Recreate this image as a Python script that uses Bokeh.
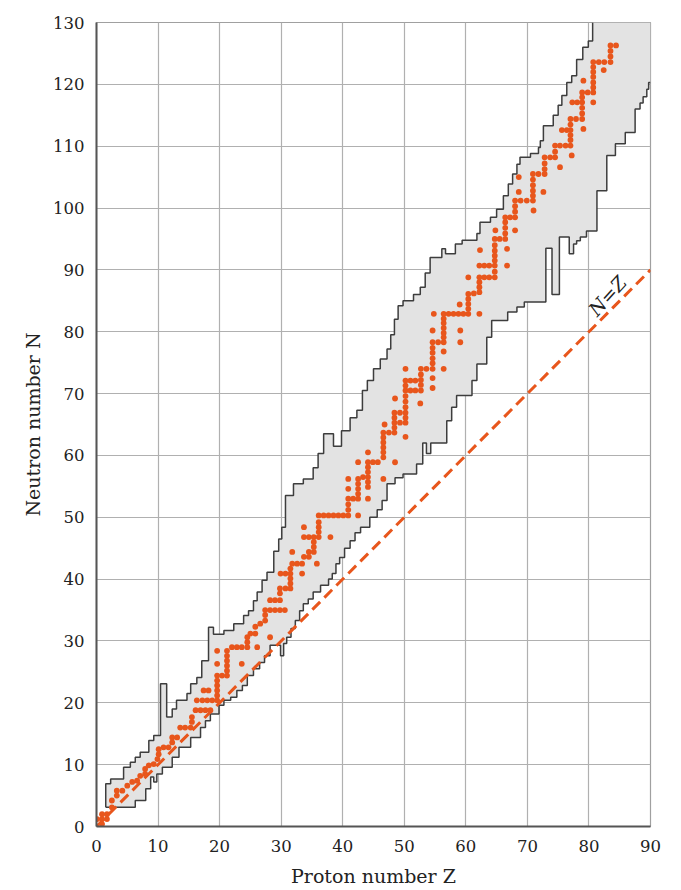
from bokeh.plotting import figure
from bokeh.models import Label, Range1d, FixedTicker
from bokeh.embed import file_html
from bokeh.resources import INLINE

# ---------------- data (proton number Z, neutron number N) ----------------
# upper edge of the band of known nuclei (staircase vertices)
upper_edge = [
    (1.5, 3.1), (1.5, 6.9), (2.3, 6.9), (2.3, 7.7), (4.4, 7.7), (4.4, 9.6), (5.5, 9.6), (5.5, 10.4),
    (6.3, 10.4), (6.3, 11.2), (7.1, 11.2), (7.1, 12.0), (8.5, 12.0), (8.5, 13.9), (9.3, 13.9),
    (9.3, 14.7), (10.4, 14.7), (10.4, 23.1), (11.4, 23.1), (11.4, 17.7), (12.3, 17.7), (12.3, 19.0),
    (13.0, 19.0), (13.0, 20.4), (14.7, 20.4), (14.7, 21.5), (15.3, 21.5), (15.3, 23.1), (16.3, 23.1),
    (16.3, 24.1), (17.1, 24.1), (17.1, 26.8), (18.2, 26.8), (18.2, 32.2), (19.0, 32.2), (19.0, 31.1),
    (20.7, 31.1), (20.7, 31.7), (22.3, 31.7), (22.3, 32.8), (23.9, 32.8), (23.9, 34.1), (24.7, 34.1),
    (24.7, 34.9), (25.5, 34.9), (25.5, 36.5), (26.1, 36.5), (26.1, 37.9), (26.9, 37.9), (26.9, 39.8),
    (27.7, 39.8), (27.7, 41.1), (28.8, 41.1), (28.8, 44.5), (29.6, 44.5), (29.6, 46.5), (30.1, 46.5),
    (30.1, 48.4), (30.7, 48.4), (30.7, 53.5), (32.0, 53.5), (32.0, 55.4), (33.6, 55.4), (33.6, 56.2),
    (35.2, 56.2), (35.2, 58.0), (36.0, 58.0), (36.0, 60.3), (36.9, 60.3), (36.9, 63.5), (38.5, 63.5),
    (38.5, 61.5), (39.8, 61.5), (39.8, 64.0), (41.2, 64.0), (41.2, 66.1), (42.3, 66.1), (42.3, 67.3),
    (43.2, 67.3), (43.2, 70.5), (44.0, 70.5), (44.0, 72.1), (45.0, 72.1), (45.0, 74.0), (46.1, 74.0),
    (46.1, 75.6), (47.2, 75.6), (47.2, 77.2), (47.8, 77.2), (47.8, 79.5), (48.4, 79.5), (48.4, 82.0),
    (49.0, 82.0), (49.0, 84.2), (49.8, 84.2), (49.8, 85.0), (51.5, 85.0), (51.5, 86.0), (52.6, 86.0),
    (52.6, 87.2), (53.4, 87.2), (53.4, 89.5), (54.2, 89.5), (54.2, 92.0), (56.1, 92.0), (56.1, 93.4),
    (56.7, 93.4), (56.7, 92.6), (58.3, 92.6), (58.3, 94.2), (59.4, 94.2), (59.4, 94.8), (61.8, 94.8),
    (61.8, 95.9), (62.3, 95.9), (62.3, 97.7), (64.0, 97.7), (64.0, 98.5), (65.0, 98.5), (65.0, 99.8),
    (66.1, 99.8), (66.1, 102.0), (66.9, 102.0), (66.9, 103.9), (67.6, 103.9), (67.6, 105.5),
    (68.3, 105.5), (68.3, 107.1), (68.8, 107.1), (68.8, 108.2), (70.5, 108.2), (70.5, 108.8),
    (71.8, 108.8), (71.8, 109.8), (72.1, 109.8), (72.1, 110.9), (72.6, 110.9), (72.6, 113.3),
    (74.2, 113.3), (74.2, 115.0), (75.0, 115.0), (75.0, 116.6), (75.6, 116.6), (75.6, 118.2),
    (76.4, 118.2), (76.4, 120.3), (77.2, 120.3), (77.2, 121.4), (78.0, 121.4), (78.0, 124.0),
    (79.0, 124.0), (79.0, 126.0), (79.9, 126.0), (79.9, 127.0), (80.6, 127.0), (80.6, 130.0)]

# lower edge of the band of known nuclei (staircase vertices)
lower_edge = [
    (1.5, 3.1), (6.3, 3.1), (6.3, 4.2), (8.0, 4.2), (8.0, 6.1), (8.8, 6.1), (8.8, 8.0), (9.3, 8.0),
    (9.3, 7.2), (9.8, 7.2), (9.8, 8.5), (10.7, 8.5), (10.7, 9.6), (12.3, 9.6), (12.3, 11.2),
    (13.4, 11.2), (13.4, 12.8), (15.3, 12.8), (15.3, 14.4), (16.9, 14.4), (16.9, 16.0), (17.7, 16.0),
    (17.7, 17.1), (18.5, 17.1), (18.5, 18.2), (19.9, 18.2), (19.9, 19.6), (20.7, 19.6), (20.7, 20.4),
    (21.8, 20.4), (21.8, 20.9), (22.8, 20.9), (22.8, 22.0), (23.7, 22.0), (23.7, 22.8), (24.5, 22.8),
    (24.5, 24.4), (25.5, 24.4), (25.5, 25.5), (26.5, 25.5), (26.5, 26.5), (27.3, 26.5), (27.3, 27.6),
    (28.2, 27.6), (28.2, 29.3), (29.9, 29.3), (29.9, 27.6), (30.4, 27.6), (30.4, 29.6), (30.9, 29.6),
    (30.9, 30.6), (31.6, 30.6), (31.6, 32.0), (32.3, 32.0), (32.3, 33.3), (33.0, 33.3), (33.0, 34.9),
    (33.6, 34.9), (33.6, 36.0), (34.4, 36.0), (34.4, 36.8), (35.2, 36.8), (35.2, 37.9), (36.4, 37.9),
    (36.4, 39.0), (37.7, 39.0), (37.7, 40.0), (38.3, 40.0), (38.3, 40.9), (38.9, 40.9), (38.9, 42.5),
    (39.5, 42.5), (39.5, 43.5), (40.3, 43.5), (40.3, 45.0), (41.2, 45.0), (41.2, 46.2), (42.0, 46.2),
    (42.0, 47.5), (42.9, 47.5), (42.9, 48.4), (44.4, 48.4), (44.4, 50.0), (45.6, 50.0), (45.6, 51.2),
    (46.4, 51.2), (46.4, 52.7), (47.2, 52.7), (47.2, 55.4), (48.5, 55.4), (48.5, 56.4), (49.8, 56.4),
    (49.8, 57.0), (52.0, 57.0), (52.0, 58.6), (53.0, 58.6), (53.0, 62.0), (53.6, 62.0), (53.6, 60.3),
    (54.3, 60.3), (54.3, 62.0), (56.9, 62.0), (56.9, 65.6), (57.7, 65.6), (57.7, 67.8), (58.5, 67.8),
    (58.5, 69.7), (61.0, 69.7), (61.0, 72.1), (61.8, 72.1), (61.8, 74.8), (63.4, 74.8), (63.4, 79.1),
    (64.2, 79.1), (64.2, 81.8), (66.8, 81.8), (66.8, 83.2), (68.3, 83.2), (68.3, 84.0), (69.5, 84.0),
    (69.5, 84.8), (73.0, 84.8), (73.0, 93.5), (74.0, 93.5), (74.0, 86.0), (75.2, 86.0), (75.2, 95.3),
    (76.8, 95.3), (76.8, 92.6), (77.5, 92.6), (77.5, 94.2), (78.0, 94.2), (78.0, 94.7), (78.6, 94.7),
    (78.6, 95.3), (79.6, 95.3), (79.6, 96.3), (81.3, 96.3), (81.3, 102.8), (82.9, 102.8),
    (82.9, 108.5), (84.3, 108.5), (84.3, 110.4), (85.9, 110.4), (85.9, 112.2), (87.5, 112.2),
    (87.5, 116.0), (88.3, 116.0), (88.3, 117.0), (88.8, 117.0), (88.8, 118.0), (89.4, 118.0),
    (89.4, 119.2), (89.7, 119.2), (89.7, 120.3), (90.0, 120.3)]

# stable nuclei
stable_light = [
    (0.1, 1.2), (0.9, 2.0), (0.9, 1.2), (0.9, 0.4), (1.7, 2.0), (1.7, 1.2), (2.5, 3.1),
    (2.5, 4.2), (3.3, 5.0), (3.3, 5.8), (4.2, 5.8), (5.0, 6.6), (5.8, 7.2), (6.6, 7.4), (7.1, 8.2),
    (7.9, 8.5), (7.9, 9.3), (8.5, 9.9), (9.3, 10.1), (9.9, 10.9), (10.1, 11.7), (10.1, 12.5),
    (10.9, 12.8), (11.7, 12.8), (12.3, 13.6), (12.3, 14.4), (13.1, 14.4), (13.6, 16.0), (14.4, 16.0),
    (15.3, 16.0), (15.5, 16.9), (15.5, 17.7), (16.1, 18.8), (16.9, 18.8), (17.7, 18.8), (18.5, 18.8),
    (16.3, 20.4), (17.2, 20.4), (18.0, 20.4), (18.8, 20.4), (19.6, 20.4), (17.4, 22.0), (18.2, 22.0),
    (19.6, 21.2), (19.6, 22.0), (19.6, 22.8), (19.6, 23.6), (19.6, 24.4), (20.4, 24.4), (21.2, 24.4),
    (21.2, 25.2), (21.2, 26.0), (21.2, 26.8), (21.2, 27.6), (21.2, 28.4), (22.0, 29.0), (22.8, 29.0),
    (23.6, 29.0), (24.5, 29.0), (24.5, 29.8), (24.5, 30.6),
    (19.6, 28.4), (19.6, 26.3), (23.6, 26.3), (26.1, 29.0), (28.2, 30.6)]
stable_medium = [
    (25.0, 31.2), (25.8, 31.2), (25.8, 32.3), (26.6, 32.8), (27.4, 33.3), (27.4, 34.2), (27.4, 35.0),
    (28.2, 35.0), (29.0, 35.0), (29.8, 35.0), (30.6, 35.0), (28.2, 36.6), (29.0, 36.6), (29.8, 36.6),
    (29.8, 37.7), (29.8, 38.5), (30.7, 38.5), (31.5, 38.5), (31.5, 39.3), (31.5, 40.1), (29.9, 40.9),
    (30.7, 40.9), (31.5, 40.9), (31.5, 41.7), (31.8, 42.5), (32.6, 42.5), (33.4, 42.5), (33.7, 43.6),
    (34.5, 43.6), (34.5, 44.4), (35.3, 44.4), (35.3, 45.2), (35.3, 46.0), (33.7, 46.8), (34.5, 46.8),
    (35.3, 46.8), (36.1, 46.8), (36.1, 47.6), (36.1, 48.4), (36.1, 49.2), (33.4, 40.9), (31.8, 44.4),
    (35.8, 42.5), (33.7, 48.4), (38.0, 46.8),
    (36.1, 50.3), (36.9, 50.3), (37.7, 50.3), (38.5, 50.3), (39.3, 50.3), (40.1, 50.3), (40.9, 50.3),
    (40.9, 51.2), (40.9, 52.1), (40.9, 53.0), (41.7, 53.0), (42.5, 53.0), (42.5, 53.8), (42.5, 54.6),
    (42.5, 55.4), (42.5, 56.2), (43.3, 56.5), (44.1, 56.5), (44.1, 55.7), (44.1, 54.9), (44.1, 57.3),
    (44.1, 58.1), (44.1, 58.9), (44.9, 58.9), (45.7, 58.9), (42.5, 50.3), (40.9, 54.6), (40.9, 56.2),
    (44.1, 53.0), (42.5, 58.9), (44.1, 60.5), (46.6, 56.2), (48.5, 58.9)]
stable_heavy = [
    (46.6, 59.7), (46.6, 60.5), (46.6, 61.3), (46.6, 62.1), (46.6, 62.9), (46.6, 63.7), (47.5, 63.7),
    (48.4, 63.7), (48.4, 64.5), (48.4, 65.3), (49.3, 65.3), (50.2, 65.3), (48.4, 66.1), (50.2, 66.1),
    (48.4, 66.9), (49.3, 66.9), (50.2, 66.9), (50.2, 67.8), (50.2, 68.7), (50.2, 69.6), (50.2, 70.5),
    (50.2, 71.3), (50.2, 72.1), (51.0, 70.5), (51.8, 70.5), (51.0, 72.1), (51.8, 72.1), (52.7, 70.5),
    (52.7, 71.4), (52.7, 72.2), (52.7, 73.1), (52.7, 74.0), (53.6, 74.0), (54.6, 74.0), (54.6, 74.9),
    (54.6, 75.7), (54.6, 76.6), (54.6, 77.4), (54.6, 78.3), (55.5, 78.3), (56.4, 78.3), (56.4, 79.1),
    (56.4, 79.8), (56.4, 80.6), (56.4, 81.4), (56.4, 82.1), (56.4, 82.9), (57.2, 82.9), (58.0, 82.9),
    (58.8, 82.9), (59.6, 82.9), (60.4, 82.9), (60.4, 83.7), (60.4, 84.5), (60.4, 85.3), (60.4, 86.1),
    (61.3, 86.2), (62.2, 86.4), (62.2, 87.2), (62.2, 88.0), (62.2, 88.8), (63.0, 88.8), (63.8, 88.8),
    (64.7, 88.8), (64.7, 89.7), (62.2, 90.7), (63.0, 90.7), (63.8, 90.7), (64.7, 90.7),
    (50.2, 74.0), (52.6, 68.4), (48.5, 69.2), (54.6, 70.9), (54.6, 72.5), (50.2, 63.0), (46.8, 65.0),
    (56.4, 74.0), (56.4, 76.8), (54.6, 80.2), (54.8, 82.9), (59.1, 80.2), (59.1, 78.3), (62.2, 82.9),
    (59.0, 84.4), (60.4, 88.8), (62.3, 93.2), (66.7, 90.7), (66.7, 93.4)]
stable_very_heavy = [
    (64.7, 91.5), (64.7, 92.3), (64.7, 93.1), (64.7, 94.0), (64.7, 95.0), (65.5, 95.0), (66.4, 95.0),
    (66.4, 95.9), (66.4, 96.8), (66.4, 97.7), (66.4, 98.5), (67.2, 98.5), (68.0, 98.5), (68.0, 99.4),
    (68.0, 100.3), (68.0, 101.2), (68.9, 101.2), (69.9, 101.2), (70.9, 101.2), (70.9, 102.0),
    (70.9, 102.8), (70.9, 103.7), (70.9, 104.6), (70.9, 105.5), (71.8, 105.5), (72.8, 105.5),
    (72.8, 106.3), (72.8, 107.2), (72.8, 108.2), (73.7, 108.2), (74.5, 108.2), (74.5, 109.1),
    (74.5, 110.1), (75.3, 110.1), (76.2, 110.1), (77.0, 110.1), (77.0, 111.0), (77.0, 111.8),
    (77.0, 112.6), (75.6, 112.6), (76.4, 112.6), (77.0, 113.5), (77.0, 114.4), (77.9, 114.4),
    (78.9, 114.4), (78.9, 115.3), (78.9, 116.2), (78.9, 117.1), (77.3, 117.1), (78.1, 117.1),
    (78.9, 117.9), (78.9, 118.7), (79.8, 118.7), (80.7, 118.7), (80.7, 119.5), (80.7, 120.3),
    (80.7, 121.2), (80.7, 122.0), (80.7, 122.8), (80.7, 123.6), (81.6, 123.6), (82.5, 123.6),
    (83.5, 123.6), (83.5, 124.5), (83.5, 125.4), (83.5, 126.3), (84.4, 126.3),
    (64.8, 96.4), (68.0, 96.4), (71.0, 99.6), (68.6, 102.6), (68.6, 105.0), (72.6, 102.6),
    (75.3, 106.6), (77.2, 108.5), (79.1, 112.8), (80.7, 117.1), (79.1, 120.6), (82.4, 122.3)]

nz_z = [0, 90]          # N = Z reference line
nz_n = [0, 90]
x_ticks = [0, 10, 20, 30, 40, 50, 60, 70, 80, 90]
y_ticks = [0, 10, 20, 30, 40, 50, 60, 70, 80, 90, 100, 110, 120, 130]

stable = stable_light + stable_medium + stable_heavy + stable_very_heavy
stable_z = [z for z, n in stable]
stable_n = [n for z, n in stable]
upper_z = [z for z, n in upper_edge]
upper_n = [n for z, n in upper_edge]
lower_z = [z for z, n in lower_edge]
lower_n = [n for z, n in lower_edge]

SERIF = "DejaVu Serif"
ORANGE = "#e8561c"
INK = "#222222"

p = figure(frame_width=554, frame_height=804, x_range=Range1d(0, 90), y_range=Range1d(0, 130),
           output_backend="svg", toolbar_location=None,
           min_border_left=96, min_border_right=25, min_border_top=22, min_border_bottom=56)

# grey band of known nuclei
poly_z = upper_z + [90.0] + lower_z[::-1]
poly_n = upper_n + [130.0] + lower_n[::-1]
p.patch(poly_z, poly_n, fill_color="#e3e3e3", line_color=None)
p.line(upper_z, upper_n, line_color="#3d3d3d", line_width=1.5)
p.line(lower_z, lower_n, line_color="#3d3d3d", line_width=1.5)

# N = Z line
p.line(nz_z, nz_n, line_color=ORANGE, line_width=3, line_dash="11 6")

# stable nuclei
p.scatter(stable_z, stable_n, size=5.8, fill_color=ORANGE, line_color=None)

p.add_layout(Label(x=83.0, y=85.8, text="N=Z", angle=48, angle_units="deg",
                   text_font=SERIF, text_font_style="italic", text_font_size="19px",
                   text_align="center", text_baseline="middle", text_color=INK))

p.xaxis.axis_label = "Proton number Z"
p.yaxis.axis_label = "Neutron number N"
for ax in (p.xaxis, p.yaxis):
    ax.axis_label_text_font = SERIF
    ax.axis_label_text_font_style = "normal"
    ax.axis_label_text_font_size = "19px"
    ax.axis_label_text_color = INK
    ax.major_label_text_font = SERIF
    ax.major_label_text_font_size = "16.5px"
    ax.major_label_text_color = INK
    ax.major_tick_line_color = None
    ax.minor_tick_line_color = None
    ax.axis_line_color = "#555555"
    ax.axis_line_width = 2
p.xaxis.ticker = FixedTicker(ticks=x_ticks)
p.yaxis.ticker = FixedTicker(ticks=y_ticks)
p.xaxis.major_label_standoff = 7
p.yaxis.major_label_standoff = 6
p.xaxis.axis_label_standoff = 10
p.yaxis.axis_label_standoff = 6

p.xgrid.ticker = FixedTicker(ticks=x_ticks)
p.ygrid.ticker = FixedTicker(ticks=y_ticks)
p.grid.grid_line_color = "#b0b0b0"
p.grid.grid_line_width = 1.2
p.outline_line_color = "#a0a0a0"
p.outline_line_width = 1.2
p.background_fill_color = "white"

open("out.html", "w").write(file_html(p, INLINE))
